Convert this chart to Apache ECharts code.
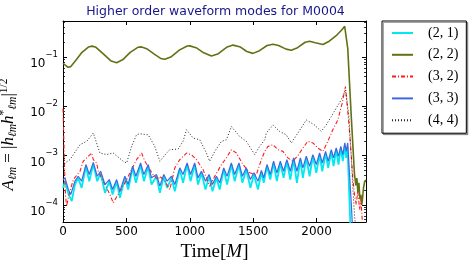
<!DOCTYPE html>
<html>
<head>
<meta charset="utf-8">
<script src="https://cdn.jsdelivr.net/npm/echarts@6/dist/echarts.min.js"></script>
<style>html,body{margin:0;padding:0;background:#fff}#c{width:473px;height:268px}</style>
</head>
<body>
<div id="c"></div>
<script>
const modeNames = ['(2, 1)', '(2, 2)', '(3, 2)', '(3, 3)', '(4, 4)'];
const xTickStep = 500;
const titleText = 'Higher order waveform modes for M0004';

// [time M, amplitude]
const mode22 = [[0,0.075],[20,0.068],[40,0.062],[60,0.064],[100,0.085],[150,0.125],[200,0.16],[230,0.167],[260,0.158],[320,0.115],[380,0.083],[423,0.077],[470,0.088],[530,0.125],[590,0.158],[620,0.161],[660,0.148],[720,0.115],[770,0.094],[803,0.09],[850,0.1],[920,0.14],[980,0.168],[1000,0.169],[1050,0.155],[1110,0.122],[1171,0.105],[1220,0.115],[1290,0.158],[1341,0.175],[1400,0.16],[1450,0.13],[1498,0.119],[1550,0.135],[1610,0.172],[1656,0.183],[1700,0.172],[1760,0.145],[1801,0.138],[1850,0.155],[1910,0.2],[1945,0.21],[1990,0.195],[2050,0.18],[2100,0.21],[2160,0.28],[2200,0.36],[2222,0.42],[2246,0.15],[2273,0.0068],[2299,4.2e-4],[2310,2.5e-4],[2318,3.5e-4],[2326,1.8e-4],[2334,2.8e-4],[2342,1.3e-4],[2350,1.6e-4],[2356,1.0e-4],[2362,1.3e-4],[2370,2.2e-4],[2380,3.0e-4],[2390,3.2e-4]];

const mode44 = [[0,6e-4],[16,7.1e-4],[55,8.3e-4],[134,1.67e-3],[187,1.95e-3],[239,2.88e-3],[246,3.1e-3],[291,1.13e-3],[344,1.05e-3],[396,1.13e-3],[475,7.7e-4],[502,7.1e-4],[541,1.54e-3],[580,2.65e-3],[606,2.78e-3],[672,2.65e-3],[724,1.54e-3],[764,7.7e-4],[817,1.13e-3],[843,1.32e-3],[908,1.36e-3],[947,1.95e-3],[974,3.35e-3],[987,3.46e-3],[1026,2.28e-3],[1079,2.1e-3],[1131,1.13e-3],[1157,7.7e-4],[1197,1.22e-3],[1250,1.95e-3],[1289,2.1e-3],[1328,3.9e-3],[1341,4.04e-3],[1394,2.45e-3],[1446,1.95e-3],[1512,1.05e-3],[1551,1.54e-3],[1591,2.1e-3],[1604,2.88e-3],[1656,4.2e-3],[1669,4.58e-3],[1709,3.1e-3],[1761,2.65e-3],[1801,1.81e-3],[1853,2.88e-3],[1919,5.3e-3],[1929,5.6e-3],[1984,4.2e-3],[2037,3.1e-3],[2076,4.2e-3],[2116,6.2e-3],[2155,9.2e-3],[2194,0.0135],[2228,0.0215],[2239,0.0233],[2254,6.8e-3],[2273,1.05e-3],[2286,2.26e-4],[2299,6.4e-5],[2310,3e-5]];

const mode32 = [[0,0.009],[6,2.5e-3],[12,6e-4],[20,1.5e-4],[29,9.5e-5],[42,1.42e-4],[81,3.27e-4],[134,4.82e-4],[160,7.7e-4],[226,1.13e-3],[239,8.3e-4],[265,7.1e-4],[278,4.82e-4],[317,3.03e-4],[344,2.22e-4],[370,1.63e-4],[396,1.1e-4],[449,1.9e-4],[488,2.8e-4],[541,5.2e-4],[580,8.3e-4],[620,1.13e-3],[646,7.7e-4],[685,5.2e-4],[711,4.1e-4],[750,3.27e-4],[764,3.8e-4],[803,3.03e-4],[843,2.06e-4],[856,1.9e-4],[882,5.65e-4],[921,8.3e-4],[974,1.13e-3],[1013,1.05e-3],[1053,8.3e-4],[1105,5.2e-4],[1157,2.4e-4],[1197,3.8e-4],[1250,6.6e-4],[1289,9.0e-4],[1328,1.32e-3],[1368,1.13e-3],[1420,6.6e-4],[1472,4.5e-4],[1525,4.1e-4],[1565,8.3e-4],[1591,1.22e-3],[1617,1.54e-3],[1656,1.67e-3],[1695,1.32e-3],[1735,1.22e-3],[1774,9.0e-4],[1813,7.7e-4],[1853,1.0e-3],[1892,1.43e-3],[1931,1.95e-3],[1971,1.81e-3],[2010,1.43e-3],[2050,1.22e-3],[2089,1.95e-3],[2128,3.35e-3],[2168,5.3e-3],[2202,0.0116],[2228,0.0251],[2239,0.0125],[2254,4.9e-3],[2273,1.05e-3],[2286,3.5e-4],[2299,1.63e-4],[2313,1.02e-4],[2325,1.9e-4],[2340,8e-5],[2350,1.3e-4],[2360,5e-5]];

const mode33 = [[0,3.2e-4],[16,3.54e-4],[42,2.06e-4],[61,1.63e-4],[94,3.03e-4],[120,3.82e-4],[147,3.03e-4],[181,6.6e-4],[207,4.13e-4],[239,7.3e-4],[270,3.82e-4],[297,4.82e-4],[331,2.59e-4],[365,3.27e-4],[391,2.06e-4],[423,3.27e-4],[449,1.9e-4],[488,3.82e-4],[514,2.59e-4],[549,6.1e-4],[575,3.82e-4],[612,7.1e-4],[638,4.13e-4],[672,6.6e-4],[698,3.54e-4],[738,4.13e-4],[764,2.4e-4],[795,4.13e-4],[821,3.03e-4],[856,3.82e-4],[882,2.59e-4],[921,5.65e-4],[947,4.13e-4],[979,7.1e-4],[1006,4.13e-4],[1039,7.1e-4],[1065,3.54e-4],[1092,4.82e-4],[1124,3.03e-4],[1152,4.13e-4],[1179,2.59e-4],[1210,3.82e-4],[1236,2.81e-4],[1268,5.65e-4],[1294,3.82e-4],[1328,7.1e-4],[1354,4.13e-4],[1388,7.1e-4],[1415,3.82e-4],[1446,5.65e-4],[1478,3.27e-4],[1506,4.48e-4],[1538,3.03e-4],[1565,5.0e-4],[1583,3.54e-4],[1609,6.6e-4],[1635,4.13e-4],[1661,7.7e-4],[1687,4.48e-4],[1714,7.7e-4],[1740,4.82e-4],[1766,8.3e-4],[1793,4.82e-4],[1819,9.0e-4],[1845,4.82e-4],[1872,9.0e-4],[1892,5.65e-4],[1919,9.7e-4],[1945,6.1e-4],[1971,1.05e-3],[1998,6.6e-4],[2024,1.13e-3],[2045,7.1e-4],[2071,1.22e-3],[2092,7.7e-4],[2116,1.32e-3],[2134,9.0e-4],[2155,1.43e-3],[2173,9.7e-4],[2191,1.54e-3],[2207,1.05e-3],[2223,1.81e-3],[2234,1.22e-3],[2246,1.81e-3],[2260,4.13e-4],[2273,1.19e-4],[2281,4.7e-5],[2290,2e-5]];

const mode21 = [[0,2.2e-4],[16,3.0e-4],[42,1.7e-4],[69,1.19e-4],[94,2.6e-4],[120,3.5e-4],[147,2.22e-4],[181,6.0e-4],[207,3.03e-4],[239,6.7e-4],[270,3.03e-4],[297,4.4e-4],[331,1.76e-4],[365,3.0e-4],[391,1.63e-4],[423,3.0e-4],[449,1.4e-4],[488,3.5e-4],[514,2.06e-4],[549,5.6e-4],[575,2.81e-4],[612,6.5e-4],[638,3.03e-4],[672,6.0e-4],[698,2.59e-4],[738,3.8e-4],[764,1.76e-4],[795,3.8e-4],[821,2.22e-4],[856,3.5e-4],[882,1.9e-4],[921,5.2e-4],[947,2.81e-4],[979,6.5e-4],[1006,3.03e-4],[1039,6.5e-4],[1065,2.59e-4],[1092,4.4e-4],[1124,2.06e-4],[1152,3.8e-4],[1179,1.9e-4],[1210,3.5e-4],[1236,2.06e-4],[1268,5.2e-4],[1294,2.59e-4],[1328,6.5e-4],[1354,3.03e-4],[1388,6.5e-4],[1415,2.81e-4],[1446,5.2e-4],[1478,2.22e-4],[1506,4.1e-4],[1538,2.06e-4],[1565,4.6e-4],[1583,2.81e-4],[1609,6.0e-4],[1635,3.27e-4],[1661,7.0e-4],[1687,3.03e-4],[1714,7.0e-4],[1740,3.54e-4],[1766,7.6e-4],[1793,3.27e-4],[1819,8.2e-4],[1845,2.81e-4],[1872,8.2e-4],[1892,3.54e-4],[1919,8.9e-4],[1945,3.82e-4],[1971,9.6e-4],[1998,4.48e-4],[2024,1.03e-3],[2045,4.82e-4],[2071,1.1e-3],[2092,5.65e-4],[2116,1.2e-3],[2134,6.1e-4],[2155,1.3e-3],[2173,6.6e-4],[2191,1.4e-3],[2207,7.7e-4],[2223,1.6e-3],[2234,9.0e-4],[2244,1.5e-3],[2254,3e-4],[2264,6e-5],[2272,2e-5]];

const xMin = 0, xMax = 2390;
const yMin = 4.5e-5, yMax = 0.54;

const minorTicks = [];
for (let e = -5; e <= 0; e++) for (let k = 2; k <= 9; k++) {
  const v = k * Math.pow(10, e);
  if (v > yMin && v < yMax) minorTicks.push(v);
}

const serif = 'Liberation Serif';
const sans = 'DejaVu Sans';

function yLabel(v) {
  const e = Math.round(Math.log10(v));
  return '{b|10}{s|\u2212' + (-e) + '}';
}

const chart = echarts.init(document.getElementById('c'), null, {renderer: 'canvas'});

function yAx(pos, main, minor) {
  return {
    type: 'log', logBase: 10, min: yMin, max: yMax, position: pos,
    axisLine: {show: !minor, lineStyle: {color: '#000', width: 1}},
    axisTick: minor ? {show: true, inside: true, length: 2, customValues: minorTicks, lineStyle: {color: '#000', width: 0.8}}
                    : {show: true, inside: true, length: 4, lineStyle: {color: '#000', width: 1}},
    axisLabel: main ? {
      show: true, margin: 5, formatter: yLabel, showMinLabel: false, showMaxLabel: false,
      padding: [6, 0, 0, 0],
      rich: {
        b: {fontFamily: sans, fontSize: 12, color: '#000', lineHeight: 20, verticalAlign: 'bottom'},
        s: {fontFamily: sans, fontSize: 8.5, color: '#000', lineHeight: 10, verticalAlign: 'top'}
      }
    } : {show: false},
    splitLine: {show: false},
    minorTick: {show: false},
    ...(main ? {
      name: '{i|A}{sub|\u2113m}{r| = |}{i|h}{sub|\u2113m}{i|h}{sup|*}{sub|\u2113m}{r||}{sup|1/2}',
      nameLocation: 'middle', nameGap: 16, nameRotate: 90,
      nameTextStyle: {
        padding: [0, 26, 0, 0],
        rich: {
          i: {fontFamily: serif, fontStyle: 'italic', fontSize: 17, lineHeight: 21, color: '#000'},
          r: {fontFamily: serif, fontSize: 17, lineHeight: 21, color: '#000'},
          sub: {fontFamily: serif, fontStyle: 'italic', fontSize: 11.5, lineHeight: 11, verticalAlign: 'bottom', color: '#000'},
          sup: {fontFamily: serif, fontSize: 11.5, lineHeight: 11, verticalAlign: 'top', color: '#000'}
        }
      }
    } : {})
  };
}

function xAx(pos, main) {
  return {
    type: 'value', min: xMin, max: xMax, interval: xTickStep, position: pos,
    axisLine: {show: true, lineStyle: {color: '#000', width: 1}},
    axisTick: {show: true, inside: true, length: 4, lineStyle: {color: '#000'}},
    axisLabel: main ? {show: true, margin: 4, showMaxLabel: false, fontFamily: sans, fontSize: 12, color: '#000',
                       formatter: v => String(v)} : {show: false},
    splitLine: {show: false},
    ...(main ? {
      name: '{r|Time[}{i|M}{r|]}', nameLocation: 'middle', nameGap: 19,
      nameTextStyle: {rich: {
        r: {fontFamily: serif, fontSize: 19, color: '#000'},
        i: {fontFamily: serif, fontStyle: 'italic', fontSize: 19, color: '#000'}
      }}
    } : {})
  };
}

const colors = ['#00e8f0', '#5f7314', '#ff1a1a', '#3f68e0', '#222222'];
const datas = [mode21, mode22, mode32, mode33, mode44];
const styles = [
  {width: 1.8, type: 'solid'},
  {width: 1.6, type: 'solid'},
  {width: 1.1, type: [4, 2, 1, 2]},
  {width: 1.2, type: 'solid'},
  {width: 1.0, type: [1, 2]}
];

chart.setOption({
  animation: false,
  backgroundColor: '#fff',
  grid: {left: 63, right: 107, top: 21, bottom: 46, containLabel: false, outerBoundsMode: 'none'},
  graphic: [{
    type: 'text', x: 215.5, y: 12,
    style: {text: titleText, fill: '#16168c', font: '12.5px "DejaVu Sans"', align: 'center', verticalAlign: 'middle'}
  }],
  legend: {
    orient: 'vertical', left: 382, top: 21,
    padding: [5, 8, 6, 9], itemGap: 7.8, itemWidth: 21, itemHeight: 14,
    borderColor: '#000', borderWidth: 1, backgroundColor: '#fff',
    shadowColor: 'rgba(0,0,0,0.35)', shadowOffsetX: 1.5, shadowOffsetY: 1.5, shadowBlur: 0,
    itemStyle: {opacity: 0},
    textStyle: {fontFamily: serif, fontSize: 14, color: '#000', padding: [0, 0, 0, 10]},
    data: modeNames
  },
  xAxis: [xAx('bottom', true), xAx('top', false)],
  yAxis: [yAx('left', true, false), yAx('left', false, true), yAx('right', false, false), yAx('right', false, true)],
  series: modeNames.map((n, i) => ({
    name: n, type: 'line', xAxisIndex: 0, yAxisIndex: 0,
    data: datas[i], symbol: 'none', showSymbol: false, clip: true,
    z: [2, 1, 3, 5, 4][i],
    lineStyle: {color: colors[i], width: styles[i].width, type: styles[i].type},
    itemStyle: {color: colors[i]}
  }))
});
</script>
</body>
</html>
